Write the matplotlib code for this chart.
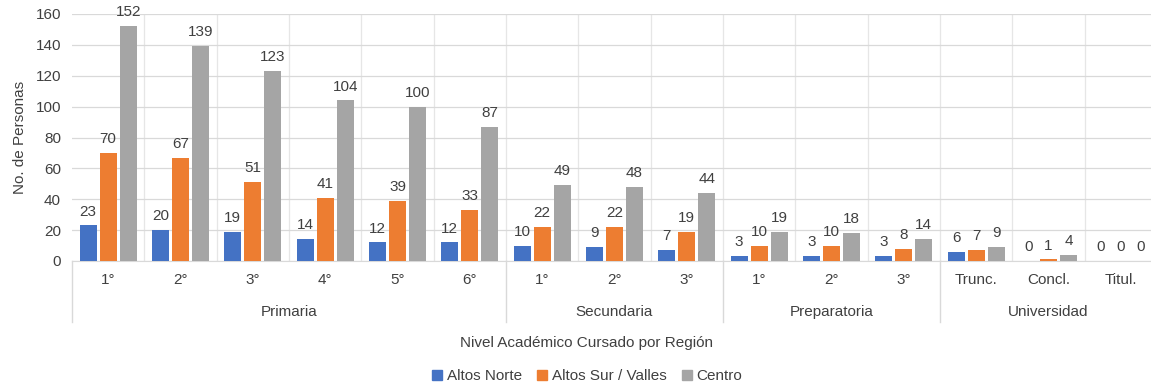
import matplotlib
matplotlib.use("Agg")
import matplotlib.pyplot as plt
import numpy as np
from matplotlib.patches import Patch

categories = ["1°", "2°", "3°", "4°", "5°", "6°",
              "1°", "2°", "3°",
              "1°", "2°", "3°",
              "Trunc.", "Concl.", "Titul."]
groups = ["Primaria", "Secundaria", "Preparatoria", "Universidad"]
group_sizes = [6, 3, 3, 3]
series_names = ["Altos Norte", "Altos Sur / Valles", "Centro"]
altos_norte = [23, 20, 19, 14, 12, 12, 10, 9, 7, 3, 3, 3, 6, 0, 0]
altos_sur = [70, 67, 51, 41, 39, 33, 22, 22, 19, 10, 10, 8, 7, 1, 0]
centro = [152, 139, 123, 104, 100, 87, 49, 48, 44, 19, 18, 14, 9, 4, 0]
colors = ["#4472C4", "#ED7D31", "#A5A5A5"]

plt.rcParams['font.family'] = ['Liberation Sans', 'DejaVu Sans']
txt = "#404040"
fs = 11

W, H = 1151, 387
fig = plt.figure(figsize=(W / 100, H / 100), dpi=100)
left, right, top, bottom = 72, 1157, 14, 261
ax = fig.add_axes([left / W, 1 - bottom / H, (right - left) / W, (bottom - top) / H])

n = len(categories)
x = np.arange(n)
bw = 0.235
step = 0.277
for i, (vals, c, name) in enumerate(zip([altos_norte, altos_sur, centro], colors, series_names)):
    pos = x + (i - 1) * step
    ax.bar(pos, vals, width=bw, color=c, label=name, zorder=3)
    for p, v in zip(pos, vals):
        ax.annotate(str(v), (p, v), xytext=(0, 5), textcoords="offset points",
                    ha="center", va="bottom", fontsize=fs, color=txt)

ax.set_xlim(-0.5, n - 0.5)
ax.set_ylim(0, 160)
ax.set_yticks(range(0, 161, 20))
ax.tick_params(axis="y", length=0, labelsize=fs, labelcolor=txt, pad=8)
ax.set_xticks([])
ax.grid(axis="y", color="#D9D9D9", linewidth=0.9, zorder=0)
for b in np.arange(0.5, n - 0.5, 1):
    ax.axvline(b, color="#E6E6E6", linewidth=0.9, zorder=0)
for s in ["top", "right", "left"]:
    ax.spines[s].set_visible(False)
ax.spines["bottom"].set_color("#D9D9D9")

ax.set_ylabel("No. de Personas", fontsize=fs, color=txt, labelpad=6)

px = (bottom - top)
def ay(ypix):
    return (bottom - ypix) / px

trans = ax.get_xaxis_transform()
for i, c in enumerate(categories):
    ax.text(i, ay(280), c, ha="center", va="center", fontsize=fs, color=txt, transform=trans)

start = 0
bounds = [-0.5]
for g, size in zip(groups, group_sizes):
    center = start + (size - 1) / 2
    ax.text(center, ay(312), g, ha="center", va="center", fontsize=fs, color=txt, transform=trans)
    start += size
    bounds.append(start - 0.5)
for b in bounds[:-1]:
    ax.plot([b, b], [0, ay(322)], color="#D9D9D9", linewidth=1.0, transform=trans, clip_on=False)

fig.text(587 / W, 1 - 343 / H, "Nivel Académico Cursado por Región", ha="center", va="center",
         fontsize=fs, color=txt)

handles = [Patch(color=c, label=nm) for c, nm in zip(colors, series_names)]
fig.legend(handles=handles, loc="center", bbox_to_anchor=(587 / W, 1 - 376 / H), ncol=3,
           frameon=False, fontsize=fs, handlelength=0.65, handleheight=0.65,
           handletextpad=0.3, columnspacing=1.0, labelcolor=txt)

fig.savefig("out.png", dpi=100)
